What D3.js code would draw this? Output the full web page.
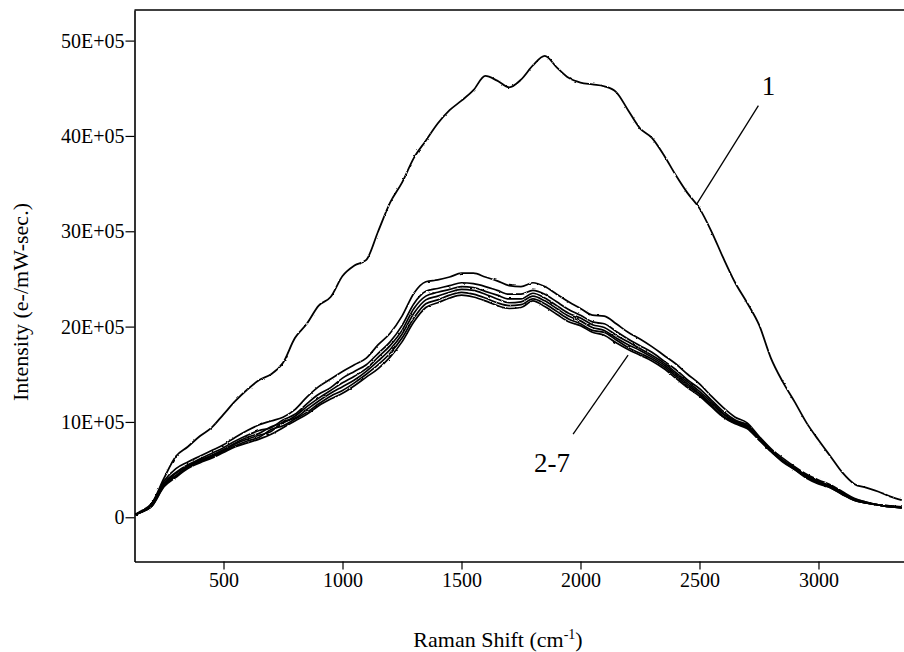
<!DOCTYPE html>
<html>
<head>
<meta charset="utf-8">
<script src="https://cdn.jsdelivr.net/npm/d3@7"></script>
<style>
  body { margin: 0; background: #fff; }
  svg text { font-family: "Liberation Serif", "Times New Roman", serif; fill: #000; }
</style>
</head>
<body>
<div id="chart"></div>
<script>
// Raman shift (cm-1) sample positions shared by all spectra
var shift = [130, 150, 200, 250, 300, 350, 400, 450, 500, 550,
  600, 650, 700, 750, 800, 850, 900, 950, 1000, 1050,
  1100, 1150, 1200, 1250, 1300, 1350, 1400, 1450, 1500, 1550,
  1600, 1650, 1700, 1750, 1800, 1850, 1900, 1950, 2000, 2050,
  2100, 2150, 2200, 2250, 2300, 2350, 2400, 2450, 2500, 2550,
  2600, 2650, 2700, 2750, 2800, 2850, 2900, 2950, 3000, 3050,
  3100, 3150, 3200, 3250, 3300, 3350];

// Intensity in units of 1E+05 e-/mW-sec
var spectrum1 = [0.3, 0.5, 1.5, 4.1, 6.4, 7.4, 8.5, 9.4, 10.8, 12.2,
  13.4, 14.4, 15.0, 16.2, 18.8, 20.3, 22.2, 23.1, 25.3, 26.4,
  27.0, 30.0, 33.0, 35.1, 37.7, 39.5, 41.3, 42.7, 43.7, 44.8,
  46.3, 45.8, 45.1, 45.9, 47.4, 48.4, 47.2, 46.1, 45.6, 45.4,
  45.2, 44.6, 42.7, 40.8, 39.8, 38.0, 35.9, 34.0, 32.4, 30.0,
  27.2, 24.6, 22.5, 20.2, 16.7, 14.2, 12.1, 9.9, 8.1, 6.4,
  4.7, 3.5, 3.1, 2.7, 2.2, 1.8];

var spectrum2 = [0.3, 0.6, 1.5, 3.8, 5.1, 5.8, 6.4, 7.0, 7.6, 8.4,
  9.1, 9.7, 10.1, 10.5, 11.3, 12.6, 13.7, 14.5, 15.3, 16.0,
  16.7, 18.1, 19.3, 21.1, 23.5, 24.7, 24.9, 25.2, 25.6, 25.6,
  25.2, 24.8, 24.3, 24.2, 24.6, 24.2, 23.4, 22.6, 21.9, 21.2,
  21.1, 20.3, 19.4, 18.7, 17.9, 17.0, 16.1, 15.0, 14.0, 12.7,
  11.5, 10.5, 9.9, 8.5, 7.2, 6.2, 5.3, 4.5, 3.9, 3.4,
  2.7, 2.0, 1.6, 1.3, 1.2, 1.1];

var spectrum3 = [0.3, 0.5, 1.4, 3.6, 4.7, 5.5, 6.1, 6.7, 7.3, 8.0,
  8.6, 9.1, 9.4, 10.2, 10.8, 11.9, 12.9, 13.6, 14.6, 15.3,
  16.0, 17.2, 18.4, 20.1, 22.4, 23.7, 24.0, 24.3, 24.6, 24.5,
  24.2, 23.8, 23.4, 23.4, 23.8, 23.4, 22.6, 21.8, 21.2, 20.5,
  20.3, 19.5, 18.7, 18.0, 17.3, 16.4, 15.5, 14.4, 13.5, 12.3,
  11.1, 10.2, 9.7, 8.4, 7.1, 6.0, 5.2, 4.4, 3.8, 3.3,
  2.6, 1.9, 1.6, 1.3, 1.2, 1.0];

var spectrum4 = [0.3, 0.5, 1.3, 3.5, 4.6, 5.4, 6.0, 6.5, 7.1, 7.8,
  8.4, 8.8, 9.5, 9.9, 10.6, 11.6, 12.5, 13.3, 14.1, 14.8,
  15.6, 16.8, 18.0, 19.6, 21.9, 23.2, 23.6, 23.9, 24.2, 24.1,
  23.7, 23.3, 22.9, 22.9, 23.5, 23.0, 22.2, 21.4, 20.9, 20.2,
  19.9, 19.1, 18.4, 17.7, 17.0, 16.2, 15.2, 14.2, 13.2, 12.1,
  10.9, 10.1, 9.6, 8.3, 7.0, 6.0, 5.1, 4.3, 3.7, 3.2,
  2.5, 1.9, 1.5, 1.3, 1.1, 1.0];

var spectrum5 = [0.3, 0.5, 1.3, 3.4, 4.4, 5.3, 5.9, 6.4, 7.0, 7.7,
  8.2, 8.6, 9.0, 10.0, 10.4, 11.3, 12.2, 13.0, 13.7, 14.4,
  15.3, 16.4, 17.6, 19.2, 21.4, 22.8, 23.2, 23.6, 23.9, 23.8,
  23.4, 22.9, 22.5, 22.6, 23.2, 22.7, 21.9, 21.1, 20.6, 19.9,
  19.6, 18.8, 18.1, 17.5, 16.8, 16.0, 15.0, 14.0, 13.0, 11.9,
  10.8, 10.0, 9.5, 8.2, 7.0, 5.9, 5.1, 4.2, 3.6, 3.2,
  2.5, 1.8, 1.5, 1.3, 1.1, 1.0];

var spectrum6 = [0.3, 0.5, 1.2, 3.3, 4.3, 5.2, 5.8, 6.3, 6.9, 7.5,
  8.0, 8.4, 9.2, 9.6, 10.3, 11.0, 11.9, 12.7, 13.3, 14.1,
  15.0, 16.0, 17.2, 18.8, 20.9, 22.4, 22.8, 23.3, 23.6, 23.4,
  23.0, 22.5, 22.2, 22.3, 22.9, 22.4, 21.6, 20.8, 20.3, 19.6,
  19.4, 18.6, 17.8, 17.2, 16.6, 15.8, 14.8, 13.8, 12.9, 11.7,
  10.6, 9.9, 9.4, 8.2, 6.9, 5.9, 5.0, 4.2, 3.6, 3.1,
  2.4, 1.8, 1.5, 1.3, 1.1, 1.0];

var spectrum7 = [0.3, 0.5, 1.2, 3.2, 4.2, 5.1, 5.7, 6.2, 6.8, 7.4,
  7.8, 8.2, 8.7, 9.4, 10.1, 10.8, 11.7, 12.4, 13.0, 13.8,
  14.7, 15.6, 16.8, 18.4, 20.5, 22.0, 22.5, 23.0, 23.3, 23.1,
  22.7, 22.2, 21.9, 22.0, 22.7, 22.1, 21.3, 20.5, 20.1, 19.4,
  19.1, 18.3, 17.6, 17.0, 16.4, 15.6, 14.6, 13.6, 12.7, 11.6,
  10.5, 9.8, 9.3, 8.1, 6.9, 5.8, 5.0, 4.1, 3.5, 3.1,
  2.4, 1.8, 1.5, 1.3, 1.1, 1.0];

var xTicks = [500, 1000, 1500, 2000, 2500, 3000];
var yTicks = [0, 10, 20, 30, 40, 50];

// label text, anchor point on the curve (data units)
var labels = [
  { text: '1', at: [2487, 32.8] },
  { text: '2-7', at: [2200, 17.0] }
];

var width = 904, height = 652;

var svg = d3.select('#chart').append('svg')
    .attr('width', width)
    .attr('height', height);

// slight roughness so the traces look like the scanned detector output
var rough = svg.append('defs').append('filter')
    .attr('id', 'rough')
    .attr('filterUnits', 'userSpaceOnUse')
    .attr('x', 0).attr('y', 0).attr('width', width).attr('height', height);
rough.append('feTurbulence')
    .attr('type', 'fractalNoise')
    .attr('baseFrequency', 0.22)
    .attr('numOctaves', 2)
    .attr('seed', 3)
    .attr('result', 'noise');
rough.append('feDisplacementMap')
    .attr('in', 'SourceGraphic')
    .attr('in2', 'noise')
    .attr('scale', 2)
    .attr('xChannelSelector', 'R')
    .attr('yChannelSelector', 'G');

var x = d3.scaleLinear().domain([126, 3390]).range([134.5, 911.3]);
var y = d3.scaleLinear().domain([-4.64, 53.21]).range([561.5, 10]);

// axes
var xAxis = svg.append('g')
    .attr('transform', 'translate(0,' + y.range()[0] + ')')
    .call(d3.axisBottom(x).tickValues(xTicks).tickSize(8).tickPadding(3).tickSizeOuter(0)
        .tickFormat(d3.format('d')));

var yAxis = svg.append('g')
    .attr('transform', 'translate(' + x.range()[0] + ',0)')
    .call(d3.axisLeft(y).tickValues(yTicks).tickSize(9).tickPadding(1).tickSizeOuter(0)
        .tickFormat(function(d) { return d === 0 ? '0' : d + 'E+05'; }));

[xAxis, yAxis].forEach(function(g) {
    g.select('.domain').attr('stroke', '#000').attr('stroke-width', 1.6);
    g.selectAll('.tick line').attr('stroke', '#000').attr('stroke-width', 1.2);
    g.selectAll('.tick text')
        .attr('font-family', '"Liberation Serif", serif')
        .attr('font-size', 20)
        .attr('fill', '#000');
});

// top frame line
svg.append('line')
    .attr('x1', x.range()[0]).attr('x2', x.range()[1])
    .attr('y1', y.range()[1]).attr('y2', y.range()[1])
    .attr('stroke', '#000')
    .attr('stroke-width', 1.6);

// spectra
var line = d3.line()
    .curve(d3.curveMonotoneX)
    .x(function(d) { return x(d[0]); })
    .y(function(d) { return y(d[1]); });

var traces = svg.append('g').attr('filter', 'url(#rough)');

var bundle = [spectrum2, spectrum3, spectrum4, spectrum5, spectrum6, spectrum7];

bundle.forEach(function(s) {
    traces.append('path')
        .datum(d3.zip(shift, s))
        .attr('fill', 'none')
        .attr('stroke', '#000')
        .attr('stroke-width', 1.7)
        .attr('d', line);
});

traces.append('path')
    .datum(d3.zip(shift, spectrum1))
    .attr('fill', 'none')
    .attr('stroke', '#000')
    .attr('stroke-width', 1.8)
    .attr('d', line);

// leader lines and labels
var leaders = [
    { from: labels[0].at, dx: 62, dy: -99, tx: 72, ty: -110 },
    { from: labels[1].at, dx: -55, dy: 79, tx: -76, ty: 117 }
];
leaders.forEach(function(l, i) {
    var px = x(l.from[0]), py = y(l.from[1]);
    svg.append('line')
        .attr('x1', px).attr('y1', py)
        .attr('x2', px + l.dx).attr('y2', py + l.dy)
        .attr('stroke', '#000')
        .attr('stroke-width', 1.3);
    svg.append('text')
        .attr('x', px + l.tx)
        .attr('y', py + l.ty)
        .attr('text-anchor', 'middle')
        .attr('font-size', 27)
        .text(labels[i].text);
});

// axis titles
var xt = svg.append('text')
    .attr('x', 498)
    .attr('y', 647)
    .attr('text-anchor', 'middle')
    .attr('font-size', 22)
    .text('Raman Shift (cm');
xt.append('tspan')
    .attr('font-size', 14)
    .attr('dy', -8)
    .text('-1');
xt.append('tspan')
    .attr('dy', 8)
    .text(')');

svg.append('text')
    .attr('transform', 'translate(28,302) rotate(-90)')
    .attr('text-anchor', 'middle')
    .attr('font-size', 22)
    .text('Intensity (e-/mW-sec.)');
</script>
</body>
</html>
